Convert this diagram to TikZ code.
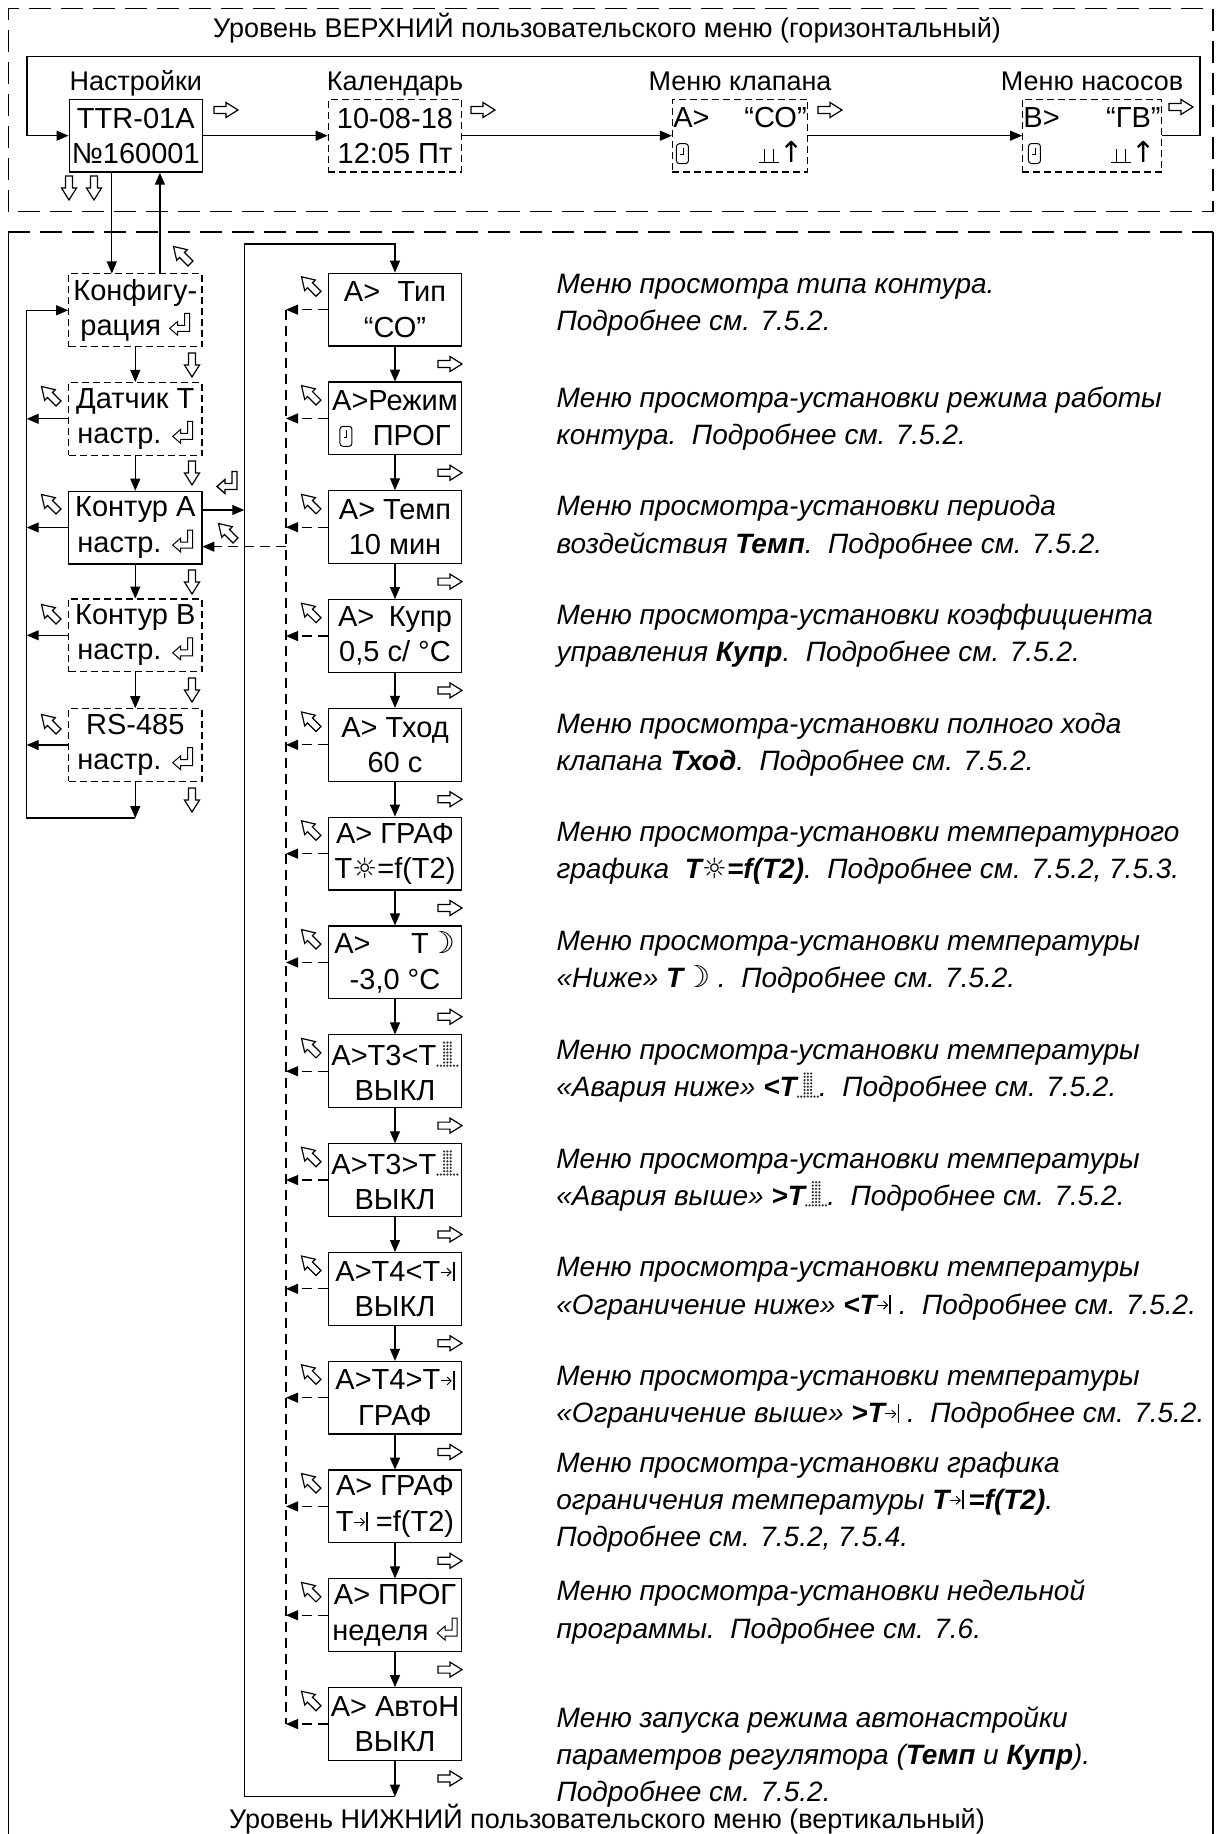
\documentclass[tikz,border=0pt]{standalone}
\usepackage{fontspec}
\setmainfont{Liberation Sans}
\newfontfamily\symfont{DejaVu Sans}
\usetikzlibrary{arrows.meta}

\newcommand{\boxfont}{\fontsize{14.5}{17.6}\selectfont}
\newcommand{\labfont}{\fontsize{13.5}{15.5}\selectfont}
\newcommand{\descfont}{\fontsize{14}{18.6}\selectfont\itshape}
% small glyphs of the display
\newcommand{\clockicon}{\tikz[x=0.5pt,y=0.5pt,baseline=0pt,line width=0.5pt]{\draw[rounded corners=1.5pt] (0,-1) rectangle (12,19); \draw (7,15) -- (7,8) -- (4,8);}}
\newcommand{\valveicon}{\tikz[x=0.5pt,y=0.5pt,baseline=0pt,line width=0.6pt]{\draw (0,0) -- (20,0); \draw (5,0) -- (5,14); \draw (14,0) -- (14,14);}}
\newcommand{\retkey}{\tikz[x=0.5pt,y=0.5pt,baseline=0pt,line width=0.5pt]{\draw (0,7) -- (8,14) -- (8,10) -- (15,10) -- (15,22) -- (20,22) -- (20,4) -- (8,4) -- (8,0) -- cycle;}}
\newcommand{\alarmicon}{\tikz[x=0.5pt,y=0.5pt,baseline=0pt]{\foreach \r in {1,...,7} \foreach \c in {1,2,3} \fill[black!80] (\c*3.3,\r*3.3) circle (1.25); \foreach \c in {-1,...,5} \fill[black!80] (\c*3.3,0) circle (1.25);}}
\newcommand{\limicon}{\tikz[x=0.5pt,y=0.5pt,baseline=0pt,line width=0.5pt]{\draw[-{Straight Barb[length=2pt,width=4pt]}] (0,9) -- (11,9); \draw[line width=0.8pt] (13,0) -- (13,19);}}
\newcommand{\sunicon}{{\symfont\fontsize{14}{14}\selectfont ☼}}
\newcommand{\moonicon}{{\symfont\fontsize{15}{15}\selectfont ☽}}

\begin{document}
\begin{tikzpicture}[x=0.5pt, y=-0.5pt, line width=0.6pt,
    >={Triangle[length=6pt,width=5pt]},
    box/.style={draw, minimum width=66.7pt, minimum height=36.4pt, inner sep=0.5pt, align=center, font=\boxfont},
    dbox/.style={box, dash pattern=on 3.5pt off 2pt},
    desc/.style={anchor=west, align=left, inner sep=0pt, font=\descfont},
    backline/.style={dash pattern=on 5pt off 3pt},
    framedash/.style={dash pattern=on 11pt off 5pt},
    hollow/.pic={\draw[solid, line width=0.6pt, fill=white] (-12,-3.5) -- (0,-3.5) -- (0,-7.5) -- (12,0) -- (0,7.5) -- (0,3.5) -- (-12,3.5) -- cycle;},
    retbig/.pic={\draw[solid, line width=0.7pt, fill=white] (-10,3.5) -- (-2,-3.5) -- (-2,0.5) -- (5,0.5) -- (5,-11.5) -- (10,-11.5) -- (10,6.5) -- (-2,6.5) -- (-2,10.5) -- cycle;}]

    \useasboundingbox (0,0) rectangle (1218,1834);

    % frames
    \draw[framedash] (8.7,211.7) -- (8.7,8.3) -- (1213,8.3) -- (1213,211.7) -- cycle;
    \draw[framedash] (8.3,232) -- (1213,232);
    \draw (8.3,232) -- (8.3,1834);
    \draw (1213,232) -- (1213,1834);

    \node[anchor=base, font=\labfont] (ttop) at (607,37.5) {Уровень ВЕРХНИЙ пользовательского меню (горизонтальный)};
    \node[anchor=base, font=\labfont] (tbot) at (607,1828) {Уровень НИЖНИЙ пользовательского меню (вертикальный)};

    % upper level
    \node[box] (nset) at (135.8,135.7) {TTR-01A\\№160001};
    \node[dbox] (ncal) at (395,135.7) {10-08-18\\12:05 Пт};
    \node[dbox] (nvalve) at (740,135.7) {A>\hspace{1.2em}“СО”\\\clockicon\hspace{2.4em}\valveicon{\symfont ↑}};
    \node[dbox] (npump) at (1092,135.7) {B>\hspace{1.6em}“ГВ”\\\clockicon\hspace{2.4em}\valveicon{\symfont ↑}};

    \node[anchor=base, font=\labfont] (lset) at ([yshift=4pt]nset.north) {Настройки};
    \node[anchor=base, font=\labfont] (lcal) at ([yshift=4pt]ncal.north) {Календарь};
    \node[anchor=base, font=\labfont] (lvalve) at ([yshift=4pt]nvalve.north) {Меню клапана};
    \node[anchor=base, font=\labfont] (lpump) at ([yshift=4pt]npump.north) {Меню насосов};

    \coordinate (tlR) at (1200,56.7);
    \coordinate (tlL) at (27,56.7);
    \draw[->] (nset) -- (ncal);
    \draw[->] (ncal) -- (nvalve);
    \draw[->] (nvalve) -- (npump);
    \draw[->] (npump.east) -| (tlR) -- (tlL) |- (nset.west);

    \pic at (226,110) {hollow};
    \pic at (483,110) {hollow};
    \pic at (830,110) {hollow};
    \pic at (1181,107) {hollow};
    \pic[rotate=-90] at (69,188) {hollow};
    \pic[rotate=-90] at (94,188) {hollow};

    % settings column
    \node[dbox] (ncfg) at (135.3,310.3) {Конфигу-\\рация \retkey};
    \node[dbox] (nsens) at (135.3,418.8) {Датчик Т\\настр. \retkey};
    \node[box] (nka) at (135.3,527.5) {Контур A\\настр. \retkey};
    \node[dbox] (nkb) at (135.3,635.3) {Контур B\\настр. \retkey};
    \node[dbox] (nrs) at (135.3,745) {RS-485\\настр. \retkey};

    \draw[->] ([xshift=-12pt]nset.south) -- ([xshift=-12pt]nset.south |- ncfg.north);
    \draw[->] ([xshift=12.3pt]ncfg.north) -- ([xshift=12.3pt]ncfg.north |- nset.south);
    \draw[->] (ncfg) -- (nsens);
    \draw[->] (nsens) -- (nka);
    \draw[->] (nka) -- (nkb);
    \draw[->] (nkb) -- (nrs);

    \coordinate (llTop) at (26.7,310.3);
    \coordinate (llBot) at (26.7,818);
    \draw[->] (nrs.south) -- (nrs.south |- llBot);
    \draw[->] (nrs.south |- llBot) -- (llBot) -- (llTop) -- (ncfg.west);
    \foreach \n in {nsens,nka,nkb,nrs}
        \draw[->] (\n.west) -- (\n.west -| llTop);

    \pic[rotate=135] at (182,255) {hollow};
    \pic[rotate=135] at (227,532) {hollow};
    \foreach \y in {395,503,613,723}
        \pic[rotate=135] at (50,\y) {hollow};
    \foreach \y in {365,473,582,690,800}
        \pic[rotate=-90] at (192,\y) {hollow};
    \pic at (227,483) {retbig};

    % lower level
    \node[box] (m0) at (395,309.65) {A>\hspace{0.6em}Тип\\“СО”};
    \node[box] (m1) at (395,418.45) {A>Режим\\\clockicon\hspace{0.7em}ПРОГ};
    \node[box] (m2) at (395,527.25) {A> Темп\\10 мин};
    \node[box] (m3) at (395,636.05) {A>\hspace{0.5em}Купр\\0,5 с/ °С};
    \node[box] (m4) at (395,744.85) {A> Тход\\60 с};
    \node[box] (m5) at (395,853.65) {A> ГРАФ\\T\sunicon=f(T2)};
    \node[box] (m6) at (395,962.45) {A>\hspace{1.4em}T\moonicon\\-3,0 °С};
    \node[box] (m7) at (395,1071.25) {A>T3<T\alarmicon\\ВЫКЛ};
    \node[box] (m8) at (395,1180.05) {A>T3>T\alarmicon\\ВЫКЛ};
    \node[box] (m9) at (395,1288.85) {A>T4<T\limicon\\ВЫКЛ};
    \node[box] (m10) at (395,1397.65) {A>T4>T\limicon\\ГРАФ};
    \node[box] (m11) at (395,1506.45) {A> ГРАФ\\T\limicon\ =f(T2)};
    \node[box] (m12) at (395,1615.25) {A> ПРОГ\\неделя \retkey};
    \node[box] (m13) at (395,1724.05) {A> АвтоН\\ВЫКЛ};

    \foreach \i [count=\j from 1] in {0,...,12}
        \draw[->] (m\i) -- (m\j);

    \coordinate (lptop) at (244.3,244);
    \coordinate (lpbot) at (244.3,1796.7);
    \draw[->] (lpbot) -- (lptop) -| (m0.north);
    \draw[->] (m13.south) -- (m13.south |- lpbot);
    \draw (m13.south |- lpbot) -- (lpbot);

    \coordinate (kaout) at ([yshift=8.75pt]nka.east);
    \coordinate (kain) at ([yshift=-9.6pt]nka.east);
    \draw[->] (kaout) -- (kaout -| lptop);

    \coordinate (dtop) at (286,309.65);
    \coordinate (dbot) at (286,1724.05);
    \draw[backline] (dtop) -- (dbot);
    \foreach \i in {0,...,13}
        \draw[backline,->] (m\i.west) -- (m\i.west -| dtop);
    \draw[backline,->] (kain -| dtop) -- (kain);

    \foreach \i in {0,...,13} {
        \pic[rotate=135] at (310,{285.3+108.8*\i}) {hollow};
        \pic at (450,{364+108.8*\i}) {hollow};
    }

    % descriptions
    \node[desc] (d0) at (556,305) {Меню просмотра типа контура.\\Подробнее см. 7.5.2.};
    \node[desc] (d1) at (556,418.45) {Меню просмотра-установки режима работы\\контура.\ \ Подробнее см. 7.5.2.};
    \node[desc] (d2) at (556,527.25) {Меню просмотра-установки периода\\воздействия \textbf{Темп}.\ \ Подробнее см. 7.5.2.};
    \node[desc] (d3) at (556,636.05) {Меню просмотра-установки коэффициента\\управления \textbf{Купр}.\ \ Подробнее см. 7.5.2.};
    \node[desc] (d4) at (556,744.85) {Меню просмотра-установки полного хода\\клапана \textbf{Тход}.\ \ Подробнее см. 7.5.2.};
    \node[desc] (d5) at (556,853.65) {Меню просмотра-установки температурного\\графика\ \ \textbf{T\sunicon=f(T2)}.\ \ Подробнее см. 7.5.2, 7.5.3.};
    \node[desc] (d6) at (556,962.45) {Меню просмотра-установки температуры\\«Ниже» \textbf{T}\moonicon\ .\ \ Подробнее см. 7.5.2.};
    \node[desc] (d7) at (556,1071.25) {Меню просмотра-установки температуры\\«Авария ниже» \textbf{<T}\alarmicon.\ \ Подробнее см. 7.5.2.};
    \node[desc] (d8) at (556,1180.05) {Меню просмотра-установки температуры\\«Авария выше» \textbf{>T}\alarmicon.\ \ Подробнее см. 7.5.2.};
    \node[desc] (d9) at (556,1288.85) {Меню просмотра-установки температуры\\«Ограничение ниже» \textbf{<T}\limicon\ .\ \ Подробнее см. 7.5.2.};
    \node[desc] (d10) at (556,1397.65) {Меню просмотра-установки температуры\\«Ограничение выше» \textbf{>T}\limicon\ .\ \ Подробнее см. 7.5.2.};
    \node[desc] (d11) at (556,1502) {Меню просмотра-установки графика\\ограничения температуры \textbf{T}\limicon\,\textbf{=f(T2)}.\\Подробнее см. 7.5.2, 7.5.4.};
    \node[desc] (d12) at (556,1612) {Меню просмотра-установки недельной\\программы.\ \ Подробнее см. 7.6.};
    \node[desc] (d13) at (556,1757) {Меню запуска режима автонастройки\\параметров регулятора (\textbf{Темп} и \textbf{Купр}).\\Подробнее см. 7.5.2.};

\end{tikzpicture}
\end{document}
